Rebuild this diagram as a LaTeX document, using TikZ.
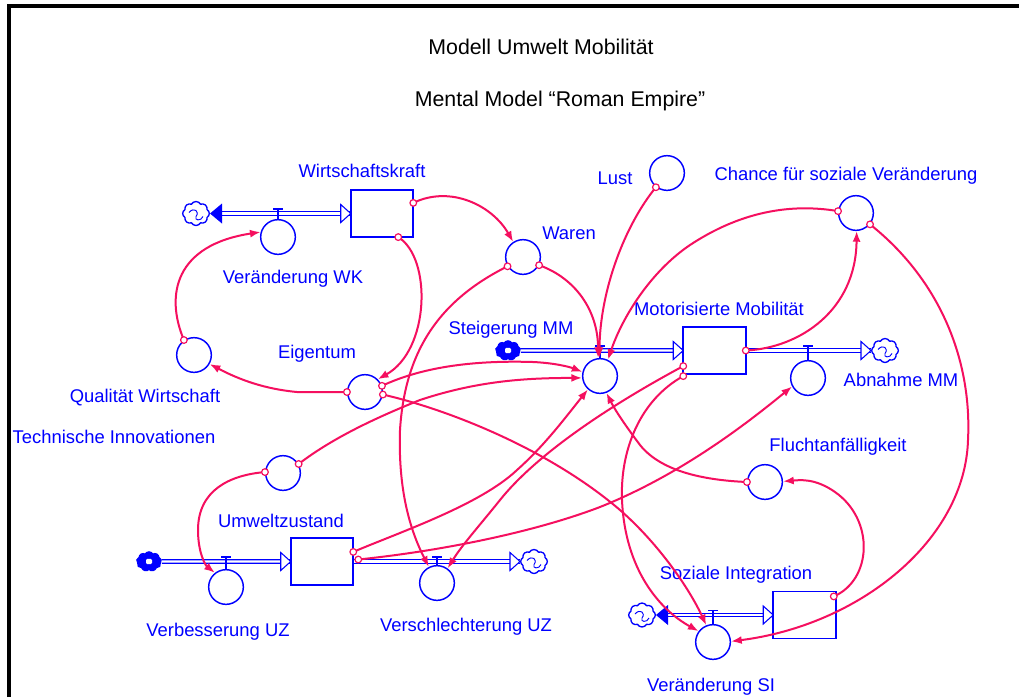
\documentclass[tikz,border=0pt]{standalone}
\usepackage{fontspec}
\setmainfont{Liberation Sans}
\usetikzlibrary{arrows.meta,shapes.symbols,calc}
\definecolor{lk}{RGB}{245,15,95}
\definecolor{bl}{RGB}{0,0,255}
\newcommand\valveT[2]{%
  \draw[bl, line width=0.8pt] (#1.north) -- ($(#1.north |- #2.west)+(0,-4.5)$);
  \draw[bl, line width=1pt] ($(#1.north |- #2.west)+(-5,-4.5)$) -- ($(#1.north |- #2.west)+(5,-4.5)$);
}
\newcommand\opentri[1]{\draw[bl, line width=0.8pt, fill=white] (#1) -- ++(-10,-9) -- ++(0,18) -- cycle;}
\newcommand\filltri[1]{\fill[bl] (#1) -- ++(12,-10) -- ++(0,20) -- cycle;}
\newcommand\swirl[1]{\draw[bl, line width=0.7pt] ($(#1.center)+(-7,-1)$) .. controls ($(#1.center)+(-2,-7)$) and ($(#1.center)+(4,-2)$) .. ($(#1.center)+(0,3)$) .. controls ($(#1.center)+(-2,7)$) and ($(#1.center)+(5,8)$) .. ($(#1.center)+(7,3)$);}
\begin{document}
\begin{tikzpicture}[x=0.75pt,y=-0.75pt,
  aux/.style={circle, draw=bl, line width=1.1pt, fill=white, minimum size=26pt, inner sep=0pt},
  stock/.style={rectangle, minimum width=46.5pt, minimum height=35pt, inner sep=0pt},
  stockbox/.style={draw=bl, line width=1.3pt, fill=white},
  lbl/.style={text=bl, font=\fontsize{13.8}{16}\selectfont, inner sep=0pt},
  ttl/.style={text=black, font=\fontsize{16}{19}\selectfont, inner sep=0pt},
  orig/.style={circle, draw=lk, line width=0.9pt, fill=white, minimum size=5pt, inner sep=0pt},
  link/.style={draw=lk, line width=1.5pt, -{Latex[length=8pt,width=6pt]}},
  pipe/.style={draw=bl, line width=0.8pt, double=white, double distance=1.8pt},
  cloudn/.style={cloud, cloud puffs=8, cloud puff arc=120, aspect=1.15, draw=bl, line width=1pt, fill=white, minimum width=20pt, minimum height=18pt, inner sep=0pt},
  blob/.style={cloud, cloud puffs=9, cloud puff arc=120, aspect=1.3, draw=bl, fill=bl, line width=1.4pt, minimum width=18pt, minimum height=14pt, inner sep=0pt}
]
\useasboundingbox (0,0) rectangle (1019,697);
\fill[white] (0,0) rectangle (1019,697);
\draw[line width=2.3pt] (9,697) -- (9,6) -- (1019,6);

% titles
\node[ttl] (t1) at (541,47) {Modell Umwelt Mobilität};
\node[ttl] (t2) at (560,101) {Mental Model “Roman Empire”};

% stocks (anchors; boxes drawn above the pipes)
\node[stock] (WKs) at (382,213.5) {};
\node[stock] (MMs) at (714.5,350.5) {};
\node[stock] (UZs) at (322,561.5) {};
\node[stock] (SIs) at (804.5,615) {};

% clouds and sources
\node[cloudn] (cWK) at (196,213.5) {};
\node[blob] (sMM) at (508,350.5) {};
\node[cloudn] (cMM) at (885,350.5) {};
\node[blob] (sUZ) at (149,561.5) {};
\node[cloudn] (cUZ) at (534,561.5) {};
\node[cloudn] (cSI) at (642,615) {};
\swirl{cWK}\swirl{cMM}\swirl{cUZ}\swirl{cSI}
\node[fill=white, minimum width=4.5pt, minimum height=4pt, inner sep=0pt, rounded corners=1pt] at (sMM) {};
\node[fill=white, minimum width=4.5pt, minimum height=4pt, inner sep=0pt, rounded corners=1pt] at (sUZ) {};

% pipes
\draw[pipe] ($(cWK.east)+(8,0)$) -- (WKs.west);
\draw[pipe] (sMM.east) -- (MMs.west);
\draw[pipe] (MMs.east) -- (cMM.west);
\draw[pipe] (sUZ.east) -- (UZs.west);
\draw[pipe] (UZs.east) -- (cUZ.west);
\draw[pipe] ($(cSI.east)+(8,0)$) -- (SIs.west);
\opentri{WKs.west}\opentri{MMs.west}\opentri{cMM.west}
\opentri{UZs.west}\opentri{cUZ.west}\opentri{SIs.west}
\filltri{cWK.east}\filltri{cSI.east}

% stock boxes
\draw[stockbox] (WKs.north west) rectangle (WKs.south east);
\draw[stockbox] (MMs.north west) rectangle (MMs.south east);
\draw[stockbox] (UZs.north west) rectangle (UZs.south east);
\draw[stockbox] (SIs.north west) rectangle (SIs.south east);

% auxiliaries and valves
\node[aux] (VWK) at (278,237) {};
\node[aux] (Waren) at (523,257) {};
\node[aux] (Lust) at (667,173) {};
\node[aux] (Ch) at (856,213) {};
\node[aux] (SMM) at (600,376) {};
\node[aux] (AMM) at (808,378) {};
\node[aux] (Q) at (194,355) {};
\node[aux] (Eig) at (365,392) {};
\node[aux] (TI) at (283,473) {};
\node[aux] (VUZ) at (226,587) {};
\node[aux] (VsUZ) at (437,583) {};
\node[aux] (Fl) at (765,482) {};
\node[aux] (VSI) at (713,642) {};
\valveT{VWK}{WKs}\valveT{SMM}{MMs}\valveT{AMM}{MMs}
\valveT{VUZ}{UZs}\valveT{VsUZ}{UZs}\valveT{VSI}{SIs}

% labels
\node[lbl] at (362,171) {Wirtschaftskraft};
\node[lbl] at (293,279) {Veränderung WK};
\node[lbl] at (569,233) {Waren};
\node[lbl] at (615,178) {Lust};
\node[lbl] at (846,176) {Chance für soziale Veränderung};
\node[lbl] at (719,309) {Motorisierte Mobilität};
\node[lbl] at (511,330) {Steigerung MM};
\node[lbl] at (317,354) {Eigentum};
\node[lbl] at (145,398) {Qualität Wirtschaft};
\node[lbl] at (114,437) {Technische Innovationen};
\node[lbl] at (901,380) {Abnahme MM};
\node[lbl] at (838,447) {Fluchtanfälligkeit};
\node[lbl] at (281,521) {Umweltzustand};
\node[lbl] at (218,632) {Verbesserung UZ};
\node[lbl] at (466,627) {Verschlechterung UZ};
\node[lbl] at (736,575) {Soziale Integration};
\node[lbl] at (711,687) {Veränderung SI};

% link origins
\coordinate (o1) at ($(WKs.north east)+(0,13)$);
\coordinate (o2) at ($(WKs.south east)+(-15,0)$);
\coordinate (o3) at (Eig.180);
\coordinate (o4) at (Q.124);
\coordinate (o5) at (Waren.-27);
\coordinate (o6) at (Lust.232);
\coordinate (o7) at (Ch.174);
\coordinate (o8) at (MMs.east);
\coordinate (o9) at (Ch.-39);
\coordinate (o10) at ($(SIs.north east)+(-2,5)$);
\coordinate (o11) at (Fl.180);
\coordinate (o12) at (Eig.20);
\coordinate (o13) at (TI.30);
\coordinate (o14) at ($(UZs.north east)+(0,14)$);
\coordinate (o15) at ($(UZs.east)+(5,-2)$);
\coordinate (o16) at ($(MMs.south west)+(0,-8)$);
\coordinate (o17) at ($(MMs.south west)+(0,2)$);
\coordinate (o18) at (Eig.-8);
\coordinate (o19) at (TI.177);
\coordinate (o20) at (Waren.211);

% links
\draw[link] (o1) .. controls (450,185) and (492,205) .. (Waren.123);
\draw[link] (o2) .. controls (432,258) and (430,350) .. (Eig.45);
\draw[link] (o3) -- (297,392) .. controls (265,389) and (240,380) .. (Q.-30);
\draw[link] (o4) .. controls (165,295) and (175,245) .. (VWK.164);
\draw[link] (o5) .. controls (575,278) and (598,310) .. (SMM.96);
\draw[link] (o6) .. controls (625,225) and (600,290) .. (SMM.92);
\draw[link] (o7) .. controls (790,203) and (740,212) .. (690,245) .. controls (650,272) and (622,318) .. (SMM.64);
\draw[link] (o8) .. controls (800,348) and (856,310) .. (Ch.-88);
\draw[link] (o9) .. controls (940,280) and (972,360) .. (968,440) .. controls (965,540) and (860,625) .. (VSI.2);
\draw[link] (o10) .. controls (872,580) and (875,520) .. (835,492) .. controls (815,478) and (800,480) .. (Fl.2);
\draw[link] (o11) .. controls (700,480) and (660,470) .. (640,445) .. controls (625,425) and (615,410) .. (SMM.-69);
\draw[link] (o12) .. controls (420,368) and (470,360) .. (533,362) .. controls (555,363) and (570,367) .. (SMM.167);
\draw[link] (o13) .. controls (330,440) and (370,420) .. (420,400) .. controls (480,380) and (530,378) .. (SMM.186);
\draw[link] (o14) .. controls (400,532) and (480,505) .. (517,470) .. controls (545,445) and (565,418) .. (SMM.228);
\draw[link] (o15) .. controls (450,550) and (540,530) .. (600,507) .. controls (680,475) and (745,425) .. (AMM.208);
\draw[link] (o16) .. controls (620,400) and (540,450) .. (500,500) .. controls (480,525) and (462,545) .. (VsUZ.54);
\draw[link] (o20) .. controls (440,300) and (405,350) .. (400,430) .. controls (398,490) and (410,530) .. (VsUZ.117);
\draw[link] (o17) .. controls (640,400) and (620,450) .. (622,500) .. controls (625,570) and (660,610) .. (VSI.143);
\draw[link] (o18) .. controls (450,410) and (550,450) .. (620,510) .. controls (660,545) and (690,590) .. (VSI.112);
\draw[link] (o19) .. controls (230,475) and (198,490) .. (198,530) .. controls (198,552) and (205,565) .. (VUZ.128);

% origin markers
\foreach \o in {o1,o2,o3,o4,o5,o6,o7,o8,o9,o10,o11,o12,o13,o14,o15,o16,o17,o18,o19,o20}
  \node[orig] at (\o) {};
\end{tikzpicture}
\end{document}
